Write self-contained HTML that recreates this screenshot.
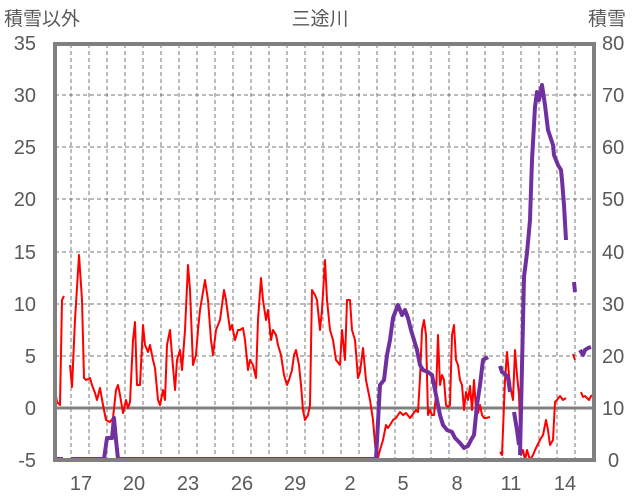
<!DOCTYPE html>
<html><head><meta charset="utf-8"><style>
html,body{margin:0;padding:0;background:#fff;}
svg{display:block;}
text{font-family:"Liberation Sans","Noto Sans CJK JP",sans-serif;fill:#595959;}
</style></head><body>
<svg width="636" height="501" viewBox="0 0 636 501" xmlns="http://www.w3.org/2000/svg">
<g stroke="#777" stroke-width="1" stroke-dasharray="4,3">
<line x1="55" y1="95" x2="594" y2="95"/><line x1="55" y1="147" x2="594" y2="147"/>
<line x1="55" y1="199" x2="594" y2="199"/><line x1="55" y1="252" x2="594" y2="252"/>
<line x1="55" y1="304" x2="594" y2="304"/><line x1="55" y1="356" x2="594" y2="356"/>
<line x1="71" y1="44" x2="71" y2="460"/><line x1="89" y1="44" x2="89" y2="460"/><line x1="107" y1="44" x2="107" y2="460"/><line x1="125" y1="44" x2="125" y2="460"/><line x1="143" y1="44" x2="143" y2="460"/><line x1="161" y1="44" x2="161" y2="460"/><line x1="179" y1="44" x2="179" y2="460"/><line x1="197" y1="44" x2="197" y2="460"/><line x1="215" y1="44" x2="215" y2="460"/><line x1="233" y1="44" x2="233" y2="460"/><line x1="251" y1="44" x2="251" y2="460"/><line x1="269" y1="44" x2="269" y2="460"/><line x1="287" y1="44" x2="287" y2="460"/><line x1="305" y1="44" x2="305" y2="460"/><line x1="323" y1="44" x2="323" y2="460"/><line x1="341" y1="44" x2="341" y2="460"/><line x1="359" y1="44" x2="359" y2="460"/><line x1="377" y1="44" x2="377" y2="460"/><line x1="395" y1="44" x2="395" y2="460"/><line x1="413" y1="44" x2="413" y2="460"/><line x1="431" y1="44" x2="431" y2="460"/><line x1="449" y1="44" x2="449" y2="460"/><line x1="467" y1="44" x2="467" y2="460"/><line x1="485" y1="44" x2="485" y2="460"/><line x1="503" y1="44" x2="503" y2="460"/><line x1="521" y1="44" x2="521" y2="460"/><line x1="539" y1="44" x2="539" y2="460"/><line x1="557" y1="44" x2="557" y2="460"/><line x1="575" y1="44" x2="575" y2="460"/>
</g>
<line x1="55" y1="408" x2="594" y2="408" stroke="#808080" stroke-width="3"/>
<g fill="none" stroke="#ff0000" stroke-width="2" stroke-linejoin="round">
<polyline points="55,390 57,402 60,405 62,300 64,296"/>
<polyline points="70,365 72,387 75,320 79,255 82,300 84,378 86,380 90,378 92,385 95,393 97,400 100,388 103,405 106,420 110,422 113,418 116,390 118,385 120,395 123,413 126,400 128,408 130,402 133,340 135,322 137,385 140,385 143,325 145,345 148,352 150,345 153,360 155,368 158,400 160,405 163,390 165,400 167,345 170,330 172,355 175,390 177,360 180,350 182,370 185,330 188,265 190,290 193,365 196,355 198,330 200,310 205,280 208,300 211,340 213,355 216,330 220,320 224,290 226,300 230,330 232,325 235,340 238,330 240,330 243,328 245,340 248,370 250,360 253,365 256,378 258,320 261,278 263,300 266,320 268,310 271,340 273,330 276,335 278,345 281,355 284,375 287,385 289,380 292,370 294,355 296,350 299,365 301,385 303,410 305,420 308,415 310,405 312,290 315,295 317,300 320,330 322,310 325,260 327,300 330,330 333,340 336,360 340,365 342,330 345,360 347,300 350,300 352,330 355,340 358,378 360,372 363,348 366,380 370,400 373,420 376,455 378,458 380,450 383,440 386,425 388,428 390,425 393,420 396,418 400,412 403,415 406,413 410,418 413,414 416,410 418,412 420,378 422,330 424,320 426,335 428,415 430,410 432,415 434,415 436,395 438,335 440,385 442,375 444,380 446,405 448,407 450,405 452,335 454,325 456,360 458,365 460,380 462,385 464,410 466,392 468,400 470,386 472,410 474,380 476,410 478,413 480,405 482,415 484,418 486,418 490,417"/>
<polyline points="500,452 502,455 505,380 507,352 509,375 511,390 513,400 515,350 517,375 519,395 521,455 523,450 525,460 527,450 530,460 533,455 536,448 540,440 543,435 546,420 548,430 550,445 553,440 555,402 557,400 560,396 563,400 566,398"/>
<polyline points="573,354 575,360"/>
<polyline points="581,392 583,397 585,396 589,400 591,396 593,395"/>
</g>
<g fill="none" stroke="#7030a0" stroke-width="4" stroke-linejoin="round">
<polyline points="55,459 63,459"/>
<polyline points="71,459 104,459 107,438 112,438 114,418 116,440 118,459 376,459 380,385 384,380 387,355 390,340 393,318 396,310 398,305 402,315 405,310 408,318 411,330 414,340 417,350 420,365 423,370 428,372 432,375 436,395 440,415 443,425 447,430 452,432 455,438 460,443 464,448 468,446 471,440 474,435 477,405 480,385 483,360 488,357"/>
<polyline points="500,366 502,372 505,374 508,378 510,392"/>
<polyline points="514,412 517,430 519,445"/>
<polyline points="520,455 524,277 527,253 530,220 532,160 535,107 537,92 539,100 542,85 545,105 548,130 553,145 554,155 558,165 561,170 562,180 564,205 566,240"/>
<polyline points="574,282 575,292"/>
<polyline points="580,350 583,355 585,350 588,348 591,347"/>
</g>
<rect x="55" y="44" width="539" height="416" fill="none" stroke="#808080" stroke-width="4"/>
<text x="320" y="25" font-size="19" text-anchor="middle">三途川</text>
<text x="4" y="25" font-size="19">積雪以外</text>
<text x="588" y="25" font-size="19">積雪</text>
<g font-size="20" text-anchor="end">
<text x="36" y="50">35</text><text x="36" y="102">30</text><text x="36" y="154">25</text><text x="36" y="206">20</text><text x="36" y="259">15</text><text x="36" y="311">10</text><text x="36" y="363">5</text><text x="36" y="415">0</text><text x="36" y="467">-5</text>
</g>
<g font-size="20" text-anchor="start">
<text x="602" y="50">80</text><text x="602" y="102">70</text><text x="602" y="154">60</text><text x="602" y="206">50</text><text x="602" y="259">40</text><text x="602" y="311">30</text><text x="602" y="363">20</text><text x="602" y="415">10</text><text x="608" y="467">0</text>
</g>
<g font-size="20" text-anchor="middle">
<text x="81" y="490">17</text><text x="134" y="490">20</text><text x="188" y="490">23</text><text x="242" y="490">26</text><text x="295" y="490">29</text><text x="350" y="490">2</text><text x="403" y="490">5</text><text x="457" y="490">8</text><text x="511" y="490">11</text><text x="565" y="490">14</text>
</g>
</svg>
</body></html>
